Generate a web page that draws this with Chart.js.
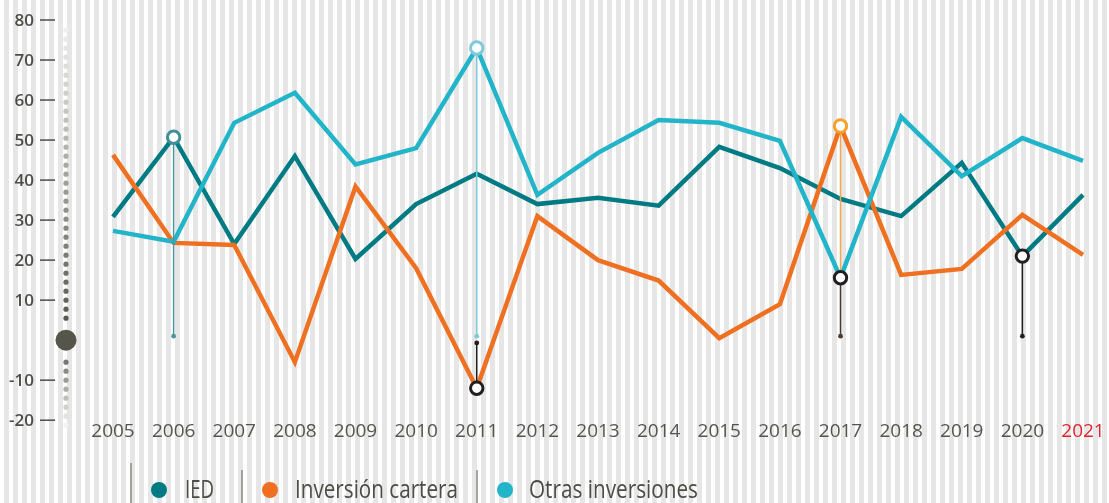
<!DOCTYPE html>
<html>
<head>
<meta charset="utf-8">
<script src="https://cdn.jsdelivr.net/npm/chart.js@4/dist/chart.umd.min.js"></script>
<style>
  html, body { margin: 0; padding: 0; }
  body {
    width: 1109px; height: 503px; overflow: hidden;
    background: repeating-linear-gradient(90deg, #ffffff 0 4.5px, #e6e6e6 4.5px 9px);
  }
  canvas { display: block; }
</style>
</head>
<body>
<canvas id="chart" width="1109" height="503"></canvas>
<script>
// data
const years = ['2005', '2006', '2007', '2008', '2009', '2010', '2011', '2012', '2013',
  '2014', '2015', '2016', '2017', '2018', '2019', '2020', '2021'];
const ied = [30.8, 50.7, 24, 46, 20.3, 34, 41.6, 34, 35.6, 33.6, 48.3, 43, 35.3, 31, 44.3, 21, 36.3];
const cartera = [46.3, 24.3, 23.8, -5.5, 38.4, 18, -12, 31, 20, 14.9, 0.5, 9, 53.5, 16.3, 17.8, 31.3, 21.3];
const otras = [27.3, 24.6, 54.3, 61.8, 43.9, 48, 73, 36.3, 46.8, 55, 54.3, 49.8, 15.6, 55.8, 41, 50.5, 44.8];
const yTicks = [80, 70, 60, 50, 40, 30, 20, 10, -10, -20];
const seriesNames = ['IED', 'Inversión cartera', 'Otras inversiones'];

const TEAL = '#007b83', ORANGE = '#ee7020', CYAN = '#22b5ca';
const TEXT = '#4d4d47', DARK = '#231f20';

// highlighted points: ring on a value, thin drop line to a small dot
const highlights = [
  { i: 1, from: ied[1], to: 1, ring: '#3f8f98', line: '#4b959d' },
  { i: 6, from: otras[6], to: 1, ring: '#7fcad8', line: '#7fcad8' },
  { i: 6, from: cartera[6], to: -0.7, ring: DARK, line: DARK },
  { i: 12, from: cartera[12], to: otras[12], ring: '#f6a02e', line: '#f5a84a', noDot: true },
  { i: 12, from: otras[12], to: 1, ring: DARK, line: '#4a3a2e' },
  { i: 15, from: ied[15], to: 1, ring: DARK, line: DARK }
];

const decor = {
  id: 'decor',
  beforeDatasetsDraw(chart) {
    const { ctx, scales: { y } } = chart;
    ctx.save();
    // y ticks and labels
    ctx.font = '600 17px "Open Sans"';
    ctx.fillStyle = TEXT;
    ctx.strokeStyle = TEXT;
    ctx.lineWidth = 1.5;
    ctx.textAlign = 'right';
    ctx.textBaseline = 'middle';
    yTicks.forEach(v => {
      const py = y.getPixelForValue(v);
      ctx.fillText(String(v), 34, py + 1);
      ctx.beginPath();
      ctx.moveTo(40, py);
      ctx.lineTo(55, py);
      ctx.stroke();
    });
    // dotted scale line
    const x0 = 66, y0 = y.getPixelForValue(0);
    const top = y.getPixelForValue(80) + 4, bot = y.getPixelForValue(-20) + 5;
    for (let py = y0 - 22; py >= top; py -= 9) {
      const t = (y0 - py) / (y0 - top);
      ctx.fillStyle = shade(t);
      ctx.beginPath(); ctx.arc(x0, py, 2.6, 0, Math.PI * 2); ctx.fill();
    }
    for (let py = y0 + 22; py <= bot; py += 9) {
      const t = (py - y0) / (bot - y0);
      ctx.fillStyle = shade(t);
      ctx.beginPath(); ctx.arc(x0, py, 2.6, 0, Math.PI * 2); ctx.fill();
    }
    ctx.fillStyle = '#55554c';
    ctx.beginPath(); ctx.arc(x0, y0, 10.5, 0, Math.PI * 2); ctx.fill();
    ctx.restore();
  },
  afterDatasetsDraw(chart) {
    const { ctx, scales: { x, y } } = chart;
    ctx.save();
    highlights.forEach(h => {
      const px = x.getPixelForValue(h.i);
      const p1 = y.getPixelForValue(h.from), p2 = y.getPixelForValue(h.to);
      ctx.strokeStyle = h.line;
      ctx.lineWidth = 1.5;
      ctx.beginPath(); ctx.moveTo(px, p1); ctx.lineTo(px, p2); ctx.stroke();
      if (!h.noDot) {
        ctx.fillStyle = h.line;
        ctx.beginPath(); ctx.arc(px, p2, 2.4, 0, Math.PI * 2); ctx.fill();
      }
    });
    highlights.forEach(h => {
      const px = x.getPixelForValue(h.i), p1 = y.getPixelForValue(h.from);
      ctx.fillStyle = '#ffffff';
      ctx.strokeStyle = h.ring;
      ctx.lineWidth = 3;
      ctx.beginPath(); ctx.arc(px, p1, 6.2, 0, Math.PI * 2); ctx.fill(); ctx.stroke();
    });
    // legend (condensed by scaling the text to the reference widths)
    const colors = [TEAL, ORANGE, CYAN];
    const seps = [131, 242, 477], dots = [159, 270, 505];
    const texts = [185, 295, 529], widths = [29, 163, 169];
    ctx.strokeStyle = '#8a8a85';
    ctx.lineWidth = 1.5;
    seps.forEach((sx, k) => {
      ctx.beginPath(); ctx.moveTo(sx, k === 0 ? 463 : 470); ctx.lineTo(sx, 503); ctx.stroke();
    });
    ctx.font = '25px "Open Sans"';
    ctx.textAlign = 'left';
    ctx.textBaseline = 'alphabetic';
    seriesNames.forEach((name, k) => {
      ctx.fillStyle = colors[k];
      ctx.beginPath(); ctx.arc(dots[k], 490, 8, 0, Math.PI * 2); ctx.fill();
      ctx.fillStyle = TEXT;
      const sx = widths[k] / ctx.measureText(name).width;
      ctx.save();
      ctx.translate(texts[k], 498);
      ctx.scale(sx, 1);
      ctx.fillText(name, 0, 0);
      ctx.restore();
    });
    ctx.restore();
  }
};

function shade(t) {
  // dark near zero, fading toward the ends
  const a = [78, 78, 70], b = [242, 242, 240];
  const k = Math.min(1, Math.max(0, t));
  const c = a.map((v, j) => Math.round(v + (b[j] - v) * k));
  return `rgb(${c[0]},${c[1]},${c[2]})`;
}

const line = (label, data, color, order) => ({
  label, data, order,
  borderColor: color,
  backgroundColor: color,
  borderWidth: 4.5,
  pointRadius: 0,
  tension: 0,
  fill: false
});

new Chart(document.getElementById('chart'), {
  type: 'line',
  data: {
    labels: years,
    datasets: [
      line(seriesNames[0], ied, TEAL, 3),
      line(seriesNames[1], cartera, ORANGE, 2),
      line(seriesNames[2], otras, CYAN, 1)
    ]
  },
  options: {
    responsive: false,
    animation: false,
    layout: { padding: { left: 113, right: 26, top: 20, bottom: 60 } },
    plugins: { legend: { display: false }, tooltip: { enabled: false } },
    scales: {
      x: {
        offset: false,
        grid: { display: false, drawTicks: false },
        border: { display: false },
        ticks: {
          autoSkip: false,
          maxRotation: 0,
          padding: 0,
          font: { family: 'Open Sans', size: 19 },
          color: c => (c.index === years.length - 1 ? '#e3222d' : '#55554d')
        }
      },
      y: { display: false, min: -20, max: 80 }
    }
  },
  plugins: [decor]
});
</script>
</body>
</html>
